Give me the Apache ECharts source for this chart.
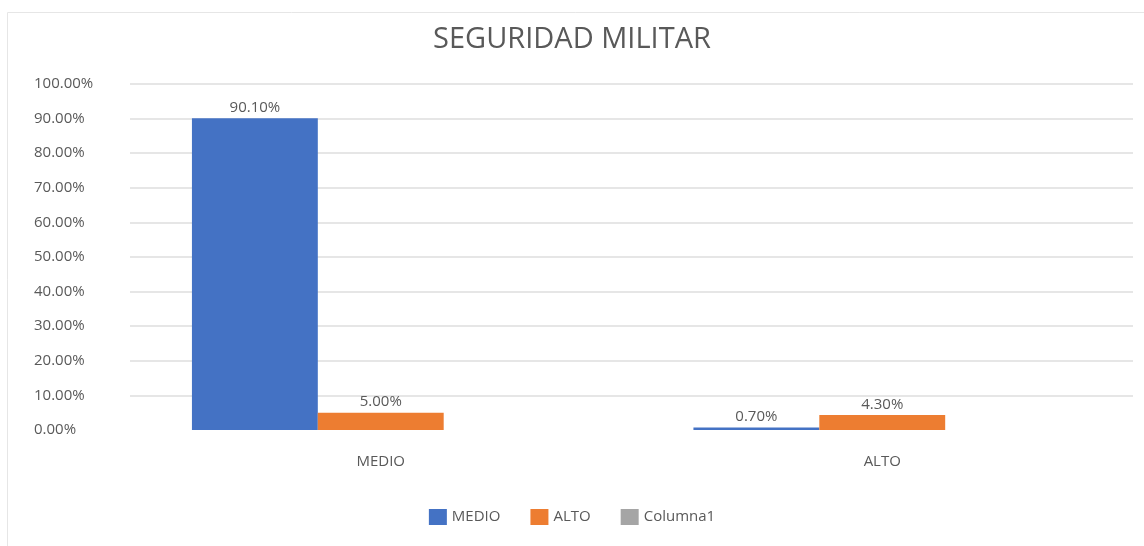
<!DOCTYPE html>
<html>
<head>
<meta charset="utf-8">
<script src="https://cdn.jsdelivr.net/npm/echarts@6/dist/echarts.min.js"></script>
<style>html,body{margin:0;padding:0;background:#fff}#c{width:1144px;height:546px}</style>
</head>
<body>
<div id="c"></div>
<script>
const title = 'SEGURIDAD MILITAR';
const categories = ['MEDIO', 'ALTO'];
const seriesNames = ['MEDIO', 'ALTO', 'Columna1'];
const medioValues = [90.1, 0.7];
const altoValues = [5.0, 4.3];
const columna1Values = [null, null];
const colors = ['#4472C4', '#ED7D31', '#A5A5A5'];

const chart = echarts.init(document.getElementById('c'));
const fmt = v => v.toFixed(2) + '%';
const FONT = 'Open Sans';
const labelCfg = {
  show: true, position: 'top', distance: 3,
  color: '#595959', fontSize: 15, fontFamily: FONT,
  formatter: p => fmt(p.value)
};
const valuesList = [medioValues, altoValues, columna1Values];
const gridColors = ['#ffffff'].concat(Array(10).fill('#e6e6e6'));
chart.setOption({
  animation: false,
  backgroundColor: '#fff',
  graphic: [{
    type: 'polyline', shape: { points: [[7.5, 546], [7.5, 12.5], [1144, 12.5]] },
    style: { stroke: '#e6e6e6', lineWidth: 1, fill: null }
  }],
  title: {
    text: title, left: 'center', top: 20,
    textStyle: { color: '#595959', fontSize: 29, fontWeight: 'normal', fontFamily: FONT }
  },
  legend: {
    bottom: 16, left: 'center', itemWidth: 18, itemHeight: 16, itemGap: 30, icon: 'rect',
    textStyle: { color: '#595959', fontSize: 15, fontFamily: FONT },
    data: seriesNames
  },
  grid: { left: 130, right: 11, top: 84, bottom: 116, containLabel: false },
  xAxis: {
    type: 'category', data: categories,
    axisLine: { show: false },
    axisTick: { show: false },
    axisLabel: { color: '#595959', fontSize: 15, fontFamily: FONT, margin: 24 }
  },
  yAxis: {
    type: 'value', min: 0, max: 100, interval: 10,
    axisLine: { show: false }, axisTick: { show: false },
    splitLine: { lineStyle: { color: gridColors, width: 2 } },
    axisLabel: { color: '#595959', fontSize: 15, fontFamily: FONT, margin: 20, align: 'left',
      formatter: v => v.toFixed(2) + '%', padding: [0, 0, 0, -76] }
  },
  series: seriesNames.map((n, i) => ({
    name: n, type: 'bar', data: valuesList[i],
    barWidth: '25.1%', barGap: '0%',
    itemStyle: { color: colors[i] },
    label: labelCfg
  }))
});
</script>
</body>
</html>
